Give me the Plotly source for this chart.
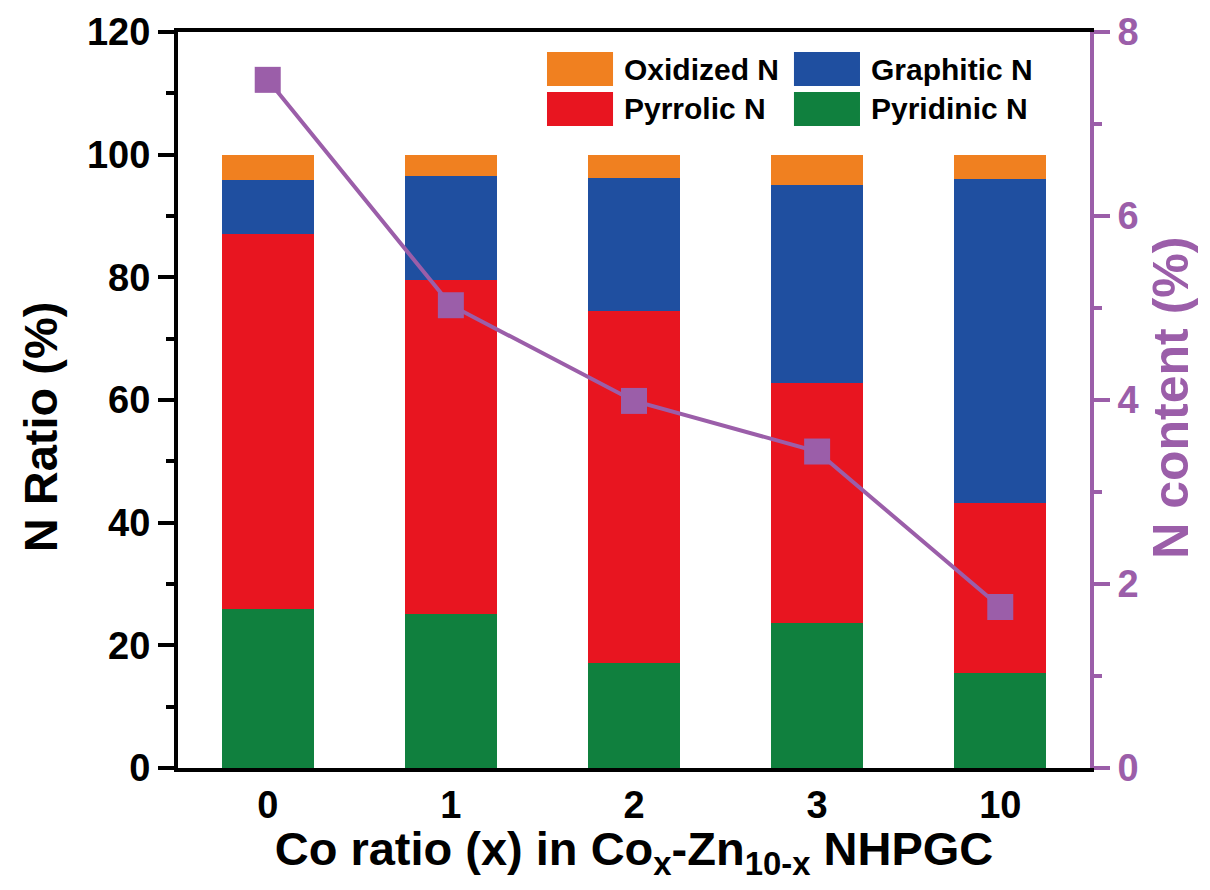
import plotly.graph_objects as go

categories = ["0", "1", "2", "3", "10"]
pyridinic = [26.0, 25.1, 17.1, 23.6, 15.5]
pyrrolic = [61.1, 54.5, 57.4, 39.2, 27.7]
graphitic = [8.8, 16.9, 21.7, 32.3, 52.8]
oxidized = [4.1, 3.5, 3.8, 4.9, 4.0]
n_content = [7.48, 5.03, 3.99, 3.44, 1.75]

C_GREEN = "#10803E"
C_RED = "#E81520"
C_BLUE = "#1F4FA0"
C_ORANGE = "#F08020"
C_PURPLE = "#9B5EA9"

FONT = "Liberation Sans"

fig = go.Figure()
for name, vals, col in [("Pyridinic N", pyridinic, C_GREEN),
                        ("Pyrrolic N", pyrrolic, C_RED),
                        ("Graphitic N", graphitic, C_BLUE),
                        ("Oxidized N", oxidized, C_ORANGE)]:
    fig.add_trace(go.Bar(x=categories, y=vals, name=name, marker=dict(color=col, line=dict(width=0)),
                         width=0.5, showlegend=False))

fig.add_trace(go.Scatter(x=categories, y=n_content, yaxis="y2", mode="lines+markers",
                         line=dict(color=C_PURPLE, width=4),
                         marker=dict(symbol="square", size=26, color=C_PURPLE),
                         showlegend=False, cliponaxis=False))

# Legend drawn as swatches + text in paper coordinates
legend_items = [("Oxidized N", C_ORANGE, 0, 0), ("Graphitic N", C_BLUE, 1, 0),
                ("Pyrrolic N", C_RED, 0, 1), ("Pyridinic N", C_GREEN, 1, 1)]
col_x0 = [0.4046, 0.6754]
sw_w = 0.0724
row_top = [0.9728, 0.9185]
sw_h = 0.0462
shapes = []
annotations = []
for label, col, c, r in legend_items:
    x0 = col_x0[c]
    y1 = row_top[r]
    shapes.append(dict(type="rect", xref="paper", yref="paper", x0=x0, x1=x0 + sw_w,
                       y0=y1 - sw_h, y1=y1, fillcolor=col, line=dict(width=0), layer="above"))
    annotations.append(dict(xref="paper", yref="paper", x=x0 + sw_w + 0.0095, y=y1 - sw_h / 2,
                            text=label, showarrow=False, xanchor="left", yanchor="middle",
                            font=dict(family=FONT, size=30, color="black", weight="bold")))

# Axis titles for the y axes
annotations.append(dict(xref="paper", yref="paper", x=0, xshift=-138, y=0.463, text="N Ratio (%)",
                        textangle=-90, showarrow=False, xanchor="center", yanchor="middle",
                        font=dict(family=FONT, size=47, color="black", weight="bold")))
annotations.append(dict(xref="paper", yref="paper", x=1, xshift=81, y=0.503, text="N content (%)",
                        textangle=-90, showarrow=False, xanchor="center", yanchor="middle",
                        font=dict(family=FONT, size=50, color=C_PURPLE, weight="bold")))

fig.update_layout(
    width=1194, height=874,
    margin=dict(l=170, r=112, t=24, b=114, autoexpand=False),
    plot_bgcolor="white", paper_bgcolor="white",
    barmode="stack",
    font=dict(family=FONT, color="black"),
    shapes=shapes, annotations=annotations,
    xaxis=dict(type="category", range=[-0.49, 4.49], showline=True, linecolor="black", linewidth=4,
               mirror=True, ticks="", showgrid=False, zeroline=False, automargin=False,
               tickfont=dict(family=FONT, size=38, color="black", weight="bold"),
               title=dict(text="Co ratio (x) in Co<sub>x</sub>-Zn<sub>10-x</sub> NHPGC",
                          font=dict(family=FONT, size=47, color="black", weight="bold"), standoff=6)),
    yaxis=dict(range=[0, 120], dtick=20, showline=True, linecolor="black", linewidth=4,
               ticks="outside", ticklen=16, tickwidth=4, tickcolor="black", automargin=False,
               minor=dict(dtick=10, ticks="outside", ticklen=8, tickwidth=4, tickcolor="black"),
               showgrid=False, zeroline=False,
               tickfont=dict(family=FONT, size=38, color="black", weight="bold")),
    yaxis2=dict(overlaying="y", side="right", range=[0, 8], dtick=2, showline=True, automargin=False,
                linecolor=C_PURPLE, linewidth=4, ticks="outside", ticklen=16, tickwidth=4,
                tickcolor=C_PURPLE,
                minor=dict(dtick=1, ticks="outside", ticklen=8, tickwidth=4, tickcolor=C_PURPLE),
                showgrid=False, zeroline=False,
                tickfont=dict(family=FONT, size=38, color=C_PURPLE, weight="bold")),
)

fig.write_html("out.html")
